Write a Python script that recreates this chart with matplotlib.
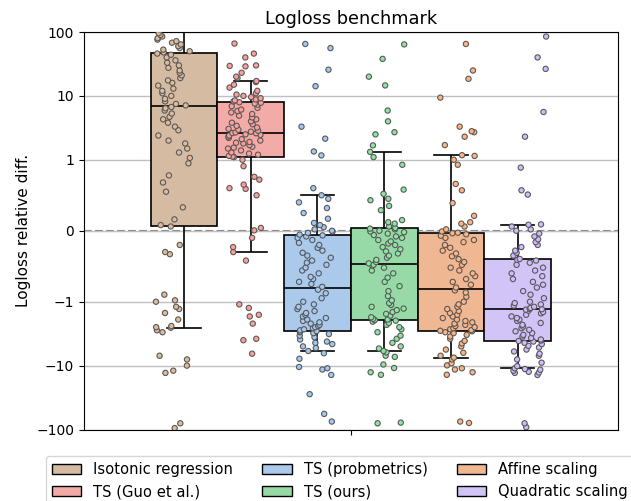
import numpy as np
import pandas as pd
import matplotlib
matplotlib.use("Agg")
import matplotlib.pyplot as plt
from matplotlib.patches import Patch
from matplotlib.ticker import NullLocator
import seaborn as sns

methods = ["Isotonic regression", "TS (Guo et al.)", "TS (probmetrics)",
           "TS (ours)", "Affine scaling", "Quadratic scaling"]

# relative logloss difference per dataset, one list per method
isotonic = [-95, -80, -13, -12, -10, -8, -7, -3, -2.8,
            -2.55,
            -2.5, -2.4, -1.9, -1.5, -1.3, -1.2, -1.0, -0.98, -0.9, -0.33, -0.3, -0.2,
            0.06, 0.08,
            0.16, 0.33, 0.55, 0.68, 0.78, 0.95, 1.07, 1.3, 1.5, 1.8,
            2.0, 2.4, 2.9, 3.3, 3.8, 4.3, 4.7, 5.3, 5.9, 6.4,
            6.7, 7.1,
            7.5, 8.2, 9, 10, 11, 12, 13, 14.5, 16, 17.5,
            19, 21, 23, 25, 27.5, 30, 33, 36, 40, 44,
            46, 48,
            50, 53, 56, 60, 64, 68, 72, 76, 80, 85, 90, 96,
            110,
            130, 160, 200, 250, 320, 400, 550, 750, 1000]
guo = [-6.5, -4.0, -3.8, -2.2, -1.7, -1.6, -1.25, -1.1, -0.42,
       -0.30,
       -0.23, -0.1, 0.006, 0.04, 0.5, 0.59, 0.6, 0.65, 0.72, 0.76, 0.91, 1.0,
       1.1, 1.12,
       1.15, 1.2, 1.25, 1.3, 1.4, 1.5, 1.55, 1.6, 1.7, 1.8,
       1.85, 1.9, 2.0, 2.1, 2.2, 2.3, 2.4, 2.45, 2.5, 2.6,
       2.62, 2.68,
       2.75, 2.85, 2.95, 3.05, 3.2, 3.4, 3.6, 3.8, 4.0, 4.3,
       4.6, 4.9, 5.2, 5.5, 5.8, 6.1, 6.5, 6.9, 7.3, 7.6,
       7.8, 7.95,
       8.2, 8.5, 8.8, 9.2, 9.6, 10, 10.5, 11, 12, 13.5, 15, 16.5,
       17.1,
       19, 20, 23, 29, 29.5, 30, 40, 46, 66]
probmetrics = [-75, -57, -28, -14, -11.5, -11, -10.5, -7.8, -6.4,
               -5.9,
               -5.3, -5.0, -4.6, -4.4, -4.2, -3.9, -3.6, -3.4, -3.2, -3.1, -3.0, -2.95,
               -2.88, -2.8,
               -2.7, -2.6, -2.5, -2.4, -2.3, -2.2, -2.1, -2.0, -1.9, -1.8,
               -1.7, -1.6, -1.5, -1.4, -1.3, -1.2, -1.1, -1.0, -0.95, -0.88,
               -0.83, -0.79,
               -0.75, -0.72, -0.68, -0.65, -0.6, -0.56, -0.52, -0.48, -0.45, -0.42,
               -0.38, -0.35, -0.31, -0.28, -0.24, -0.2, -0.17, -0.13, -0.1, -0.08,
               -0.065, -0.055,
               -0.03, -0.01, 0.0, 0.02, 0.05, 0.08, 0.11, 0.17, 0.25, 0.32, 0.40, 0.45,
               0.50,
               0.6, 1.17, 1.35, 2.14, 3.3, 14.2, 25.7, 56, 65]
ours = [-80, -78, -13.9, -12.7, -10.9, -9.6, -7.3, -7.0, -6.2,
        -5.9,
        -5.4, -5.0, -4.4, -3.8, -3.4, -3.0, -2.7, -2.5, -2.3, -2.15, -2.05, -1.98,
        -1.94, -1.9,
        -1.85, -1.75, -1.65, -1.55, -1.45, -1.35, -1.28, -1.2, -1.12, -1.05,
        -0.98, -0.92, -0.85, -0.78, -0.72, -0.66, -0.6, -0.56, -0.52, -0.49,
        -0.48, -0.46,
        -0.44, -0.41, -0.38, -0.35, -0.32, -0.29, -0.26, -0.23, -0.2, -0.18,
        -0.15, -0.13, -0.1, -0.08, -0.06, -0.04, -0.02, -0.01, 0.0, 0.02,
        0.03, 0.04,
        0.06, 0.1, 0.12, 0.15, 0.29, 0.35, 0.43, 0.45, 0.52, 0.58, 0.93, 1.1,
        1.33,
        1.68, 2.5, 2.7, 4.0, 5.9, 14.6, 20, 38, 64]
affine = [-79, -75, -13.9, -12.7, -11.5, -11, -9.9, -9.2, -8.0,
          -7.5,
          -7.0, -6.3, -5.6, -5.0, -4.5, -4.1, -3.8, -3.5, -3.3, -3.1, -3.0, -2.9,
          -2.85, -2.78,
          -2.7, -2.6, -2.5, -2.4, -2.3, -2.2, -2.1, -2.0, -1.9, -1.8,
          -1.7, -1.6, -1.5, -1.4, -1.3, -1.2, -1.1, -1.0, -0.93, -0.87,
          -0.84, -0.80,
          -0.76, -0.72, -0.68, -0.64, -0.6, -0.56, -0.52, -0.48, -0.44, -0.4,
          -0.36, -0.32, -0.28, -0.24, -0.2, -0.16, -0.13, -0.1, -0.07, -0.05,
          -0.035, -0.028,
          -0.01, 0.02, 0.06, 0.1, 0.12, 0.21, 0.39, 0.57, 0.66, 0.93, 1.0, 1.15,
          1.18,
          1.7, 2.3, 2.7, 2.8, 3.3, 9.4, 18.5, 25, 65]
quadratic = [-92, -80, -14, -13, -12.8, -12.5, -12, -11.6, -11.3,
             -11.0,
             -10.2, -9.0, -8.0, -7.0, -6.5, -6.0, -5.6, -5.2, -4.9, -4.6, -4.4, -4.2,
             -4.12, -4.05,
             -3.9, -3.7, -3.5, -3.3, -3.1, -2.9, -2.75, -2.6, -2.45, -2.3,
             -2.15, -2.0, -1.9, -1.8, -1.7, -1.6, -1.52, -1.45, -1.38, -1.33,
             -1.31, -1.29,
             -1.25, -1.2, -1.15, -1.1, -1.05, -1.0, -0.95, -0.9, -0.85, -0.8,
             -0.76, -0.72, -0.68, -0.64, -0.6, -0.56, -0.52, -0.48, -0.45, -0.42,
             -0.41, -0.397,
             -0.35, -0.31, -0.28, -0.23, -0.2, -0.16, -0.12, -0.08, -0.04, 0.0, 0.02, 0.06,
             0.085,
             0.09, 0.51, 0.57, 0.89, 2.3, 5.6, 26.5, 40, 85]

tick_vals = [-100, -10, -1, 0, 1, 10, 100]
tick_labels = ["\u2212100", "\u221210", "\u22121", "0", "1", "10", "100"]

all_lists = [isotonic, guo, probmetrics, ours, affine, quadratic]
df = pd.DataFrame({
    "method": np.repeat(methods, [len(v) for v in all_lists]),
    "diff": np.concatenate(all_lists),
})

pastel = sns.color_palette("pastel")
colors = [pastel[5], pastel[3], pastel[0], pastel[2], pastel[1], pastel[4]]
box_colors = [sns.desaturate(c, 0.75) for c in colors]

fig = plt.figure(figsize=(6.31, 5.01), dpi=100)
ax = fig.add_axes([0.133, 0.1427, 0.846, 0.7934])

# zero reference line, behind the boxes
ax.axhline(0, color="gray", linestyle="--", linewidth=1.5, zorder=0.5)

sns.boxplot(data=df, y="diff", hue="method", hue_order=methods, palette=box_colors,
            saturation=1, width=0.75, whis=(10, 90), showfliers=False,
            linecolor="black", linewidth=1.2, legend=False, ax=ax)
np.random.seed(3)
sns.stripplot(data=df, y="diff", hue="method", hue_order=methods, palette=colors,
              dodge=True, jitter=0.2, size=3.8, linewidth=0.8, edgecolor="0.35",
              legend=False, ax=ax)

ax.set_yscale("symlog", linthresh=1)
ax.set_ylim(-100, 100)
ax.set_yticks(tick_vals)
ax.set_yticklabels(tick_labels)
ax.yaxis.set_minor_locator(NullLocator())
ax.yaxis.grid(True, color="#c0c0c0", linewidth=1)
ax.set_axisbelow(True)
ax.set_xlim(-0.5, 0.5)
ax.set_xticks([0])
ax.set_xticklabels([""])
ax.set_xlabel("")
ax.set_ylabel("Logloss relative diff.", fontsize=11)
ax.set_title("Logloss benchmark", fontsize=12.8)

handles = [Patch(facecolor=c, edgecolor="black", label=m) for c, m in zip(box_colors, methods)]
fig.legend(handles, methods, loc="upper left", bbox_to_anchor=(0.0729, 0.0898),
           borderaxespad=0, ncol=3, fontsize=10.6, frameon=True)

fig.savefig("out.png", dpi=100)
